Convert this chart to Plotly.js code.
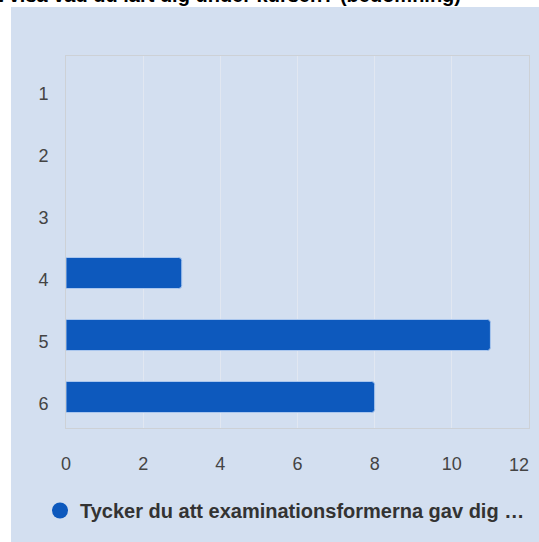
<!DOCTYPE html>
<html>
<head>
<meta charset="utf-8">
<script src="https://cdn.plot.ly/plotly-3.0.1.min.js"></script>
<style>html,body{margin:0;padding:0;background:#fff;}#chart{width:539px;height:542px;}</style>
</head>
<body>
<div id="chart"></div>
<script>
const categories = ['1', '2', '3', '4', '5', '6'];
const counts = [0, 0, 0, 3, 11, 8];
const seriesName = 'Tycker du att examinationsformerna gav dig …';
const chartTitle = 'möjlighet att visa vad du lärt dig under kursen? (bedömning)';
const xTicks = [0, 2, 4, 6, 8, 10, 12];

const W = 539, H = 542;
const L = 66, R = 10, T = 56, B = 114;
const pw = W - L - R, ph = H - T - B;
const px = v => (v - L) / pw;
const py = v => (H - B - v) / ph;

const panel = '#d3dff0';
const barColor = '#0d59bd';
const font = 'Liberation Sans, Arial, sans-serif';

// the last x label is right-aligned to the plot edge (second overlaid axis)
const innerTicks = xTicks.slice(0, -1);
const edgeTick = xTicks.slice(-1);

const data = [
  {
    type: 'bar',
    orientation: 'h',
    y: categories,
    x: counts,
    width: 0.5,
    marker: {
      color: barColor,
      line: {color: '#a9c6ee', width: counts.map(v => (v > 0 ? 1 : 0))},
      cornerradius: 3
    },
    showlegend: false,
    hoverinfo: 'x+y'
  },
  {
    type: 'scatter',
    mode: 'markers',
    x: [null],
    y: [null],
    xaxis: 'x2',
    yaxis: 'y',
    name: seriesName,
    marker: {color: barColor, size: 20, symbol: 'circle'},
    showlegend: true
  }
];

const tickFont = {family: font, size: 18, color: '#444444'};

const layout = {
  width: W,
  height: H,
  margin: {l: L, r: R, t: T, b: B, pad: 0},
  paper_bgcolor: '#ffffff',
  plot_bgcolor: 'rgba(0,0,0,0)',
  font: {family: font, color: '#444444', size: 18},
  title: {
    text: chartTitle,
    font: {family: font, size: 20, color: '#000000', weight: 'bold'},
    xref: 'container', x: 461 / W, xanchor: 'right',
    yref: 'container', y: 1, yanchor: 'bottom',
    pad: {b: -2, t: 0, l: 0, r: 0}
  },
  shapes: [{
    type: 'rect', xref: 'paper', yref: 'paper', layer: 'below',
    x0: px(11), x1: px(539), y0: py(542), y1: py(7),
    fillcolor: panel, line: {width: 0}
  }],
  xaxis: {
    range: [0, 12],
    tickvals: innerTicks,
    ticktext: innerTicks.map(String),
    showgrid: true,
    gridcolor: '#e1e7f1',
    gridwidth: 1,
    zeroline: false,
    showline: true,
    mirror: true,
    linecolor: '#cdd1d6',
    linewidth: 1,
    ticks: '',
    ticklabelstandoff: 19,
    tickfont: tickFont,
    fixedrange: true
  },
  xaxis2: {
    overlaying: 'x',
    anchor: 'y',
    side: 'bottom',
    range: [0, 12],
    tickvals: edgeTick,
    ticktext: edgeTick.map(String),
    ticklabelposition: 'outside left',
    ticklabeloverflow: 'allow',
    showgrid: false,
    zeroline: false,
    showline: false,
    ticks: '',
    ticklabelstandoff: 24,
    tickfont: tickFont,
    fixedrange: true
  },
  yaxis: {
    type: 'category',
    categoryorder: 'array',
    categoryarray: categories,
    range: [5.5, -0.5],
    showgrid: false,
    zeroline: false,
    showline: true,
    mirror: true,
    linecolor: '#cdd1d6',
    linewidth: 1,
    ticks: '',
    ticklabelstandoff: 13,
    ticklabelshift: -7,
    tickfont: tickFont,
    fixedrange: true
  },
  legend: {
    orientation: 'h',
    x: px(40), xanchor: 'left',
    y: py(491), yanchor: 'top',
    bgcolor: 'rgba(0,0,0,0)',
    font: {family: font, size: 20, color: '#333333', weight: 'bold'},
    itemwidth: 30
  },
  showlegend: true
};

Plotly.newPlot('chart', data, layout, {displayModeBar: false, staticPlot: true});
</script>
</body>
</html>
